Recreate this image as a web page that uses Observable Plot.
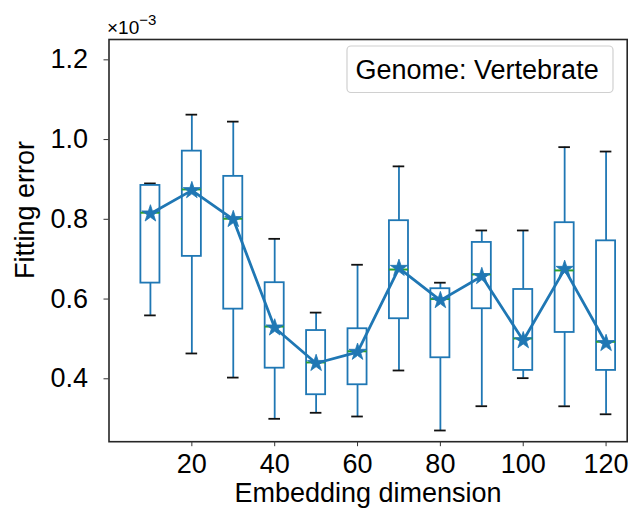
<!DOCTYPE html>
<html><head><meta charset="utf-8">
<script src="https://cdn.jsdelivr.net/npm/d3@7"></script>
<script src="https://cdn.jsdelivr.net/npm/@observablehq/plot@0.6"></script>
<style>body{margin:0;background:#fff} #chart{width:630px;height:508px}</style>
</head><body><div id="chart"></div>
<script>
const dims        = [10, 20, 30, 40, 50, 60, 70, 80, 90, 100, 110, 120];
const whiskerLow  = [0.559, 0.4635, 0.403, 0.2996, 0.3147, 0.3054, 0.4208, 0.2703, 0.3312, 0.4016, 0.331, 0.311];
const q1          = [0.640, 0.707, 0.5747, 0.4266, 0.360, 0.385, 0.5506, 0.4527, 0.5757, 0.421, 0.5162, 0.421];
const medians     = [0.8166, 0.875, 0.8015, 0.531, 0.441, 0.469, 0.674, 0.600, 0.6617, 0.5011, 0.6718, 0.4928];
const q3          = [0.885, 0.971, 0.9077, 0.641, 0.521, 0.5255, 0.7965, 0.6259, 0.742, 0.624, 0.7915, 0.746];
const whiskerHigh = [0.890, 1.0625, 1.045, 0.751, 0.566, 0.686, 0.9328, 0.641, 0.772, 0.772, 0.981, 0.970];
const means       = [0.814, 0.8725, 0.800, 0.528, 0.439, 0.467, 0.6775, 0.5966, 0.657, 0.496, 0.675, 0.489];
const xTicks = [20, 40, 60, 80, 100, 120];
const yTicks = [0.4, 0.6, 0.8, 1.0, 1.2];
const legendText = "Genome: Vertebrate";
const xLabel = "Embedding dimension";
const yLabel = "Fitting error";

const rows = dims.map((d, i) => ({x: d, lo: whiskerLow[i], q1: q1[i], med: medians[i], q3: q3[i], hi: whiskerHigh[i], mean: means[i]}));
const blue = "#1f77b4", green = "#2ca02c";
const boxHalf = 2.3, capHalf = 1.4;
const font = "'Liberation Sans', Arial, Helvetica, sans-serif";

const chart = Plot.plot({
  width: 630, height: 508,
  marginLeft: 108.5, marginRight: 3.3, marginTop: 39, marginBottom: 66.8,
  style: {fontFamily: font, fontSize: "27px", color: "#000", background: "#fff", overflow: "visible"},
  x: {domain: [0, 125.1]},
  y: {domain: [0.2422, 1.251]},
  marks: [
    Plot.ruleX(rows, {x: "x", y1: "lo", y2: "q1", stroke: blue, strokeWidth: 1.8}),
    Plot.ruleX(rows, {x: "x", y1: "q3", y2: "hi", stroke: blue, strokeWidth: 1.8}),
    Plot.ruleY(rows, {y: "lo", x1: d => d.x - capHalf, x2: d => d.x + capHalf, stroke: "#111", strokeWidth: 1.8}),
    Plot.ruleY(rows, {y: "hi", x1: d => d.x - capHalf, x2: d => d.x + capHalf, stroke: "#111", strokeWidth: 1.8}),
    Plot.rect(rows, {x1: d => d.x - boxHalf, x2: d => d.x + boxHalf, y1: "q1", y2: "q3", stroke: blue, fill: "none", strokeWidth: 1.8}),
    Plot.ruleY(rows, {y: "med", x1: d => d.x - boxHalf, x2: d => d.x + boxHalf, stroke: green, strokeWidth: 2}),
    Plot.line(rows, {x: "x", y: "mean", stroke: blue, strokeWidth: 2.8}),
    Plot.dot(rows, {x: "x", y: "mean", symbol: "star", r: 5.4, fill: blue, stroke: blue, strokeWidth: 0.8}),
    Plot.frame({stroke: "#262626", strokeWidth: 1.6}),
    Plot.axisX({ticks: xTicks, tickSize: 5, tickPadding: 7, label: null, tickFormat: d => String(d), fontSize: 27, stroke: "#333", fill: "#000"}),
    Plot.axisY({ticks: yTicks, tickSize: 5, tickPadding: 16, label: null, tickFormat: d3.format(".1f"), fontSize: 27, stroke: "#333", fill: "#000"})
  ]
});

const svg = d3.select(chart);
// scale multiplier label
const mult = svg.append("text").attr("x", 107).attr("y", 33.5).attr("text-anchor", "start")
  .style("font-family", font).style("font-size", "19px").attr("fill", "#000");
mult.append("tspan").text("×10");
mult.append("tspan").text("−3").style("font-size", "15px").attr("dy", -9);
// axis labels
svg.append("text").attr("x", 368).attr("y", 501.7).attr("text-anchor", "middle")
  .style("font-family", font).style("font-size", "27px").attr("fill", "#000").text(xLabel);
svg.append("text").attr("transform", "translate(34,210) rotate(-90)").attr("text-anchor", "middle")
  .style("font-family", font).style("font-size", "27px").attr("fill", "#000").text(yLabel);
// legend
svg.append("rect").attr("x", 347).attr("y", 46).attr("width", 266).attr("height", 46.5).attr("rx", 4)
  .attr("fill", "#fff").attr("fill-opacity", 0.8).attr("stroke", "#d0d0d0").attr("stroke-width", 1.2);
svg.append("text").attr("x", 355.5).attr("y", 78.5).attr("text-anchor", "start")
  .style("font-family", font).style("font-size", "27px").attr("fill", "#000").text(legendText);

document.getElementById("chart").appendChild(chart);
</script>
</body></html>
